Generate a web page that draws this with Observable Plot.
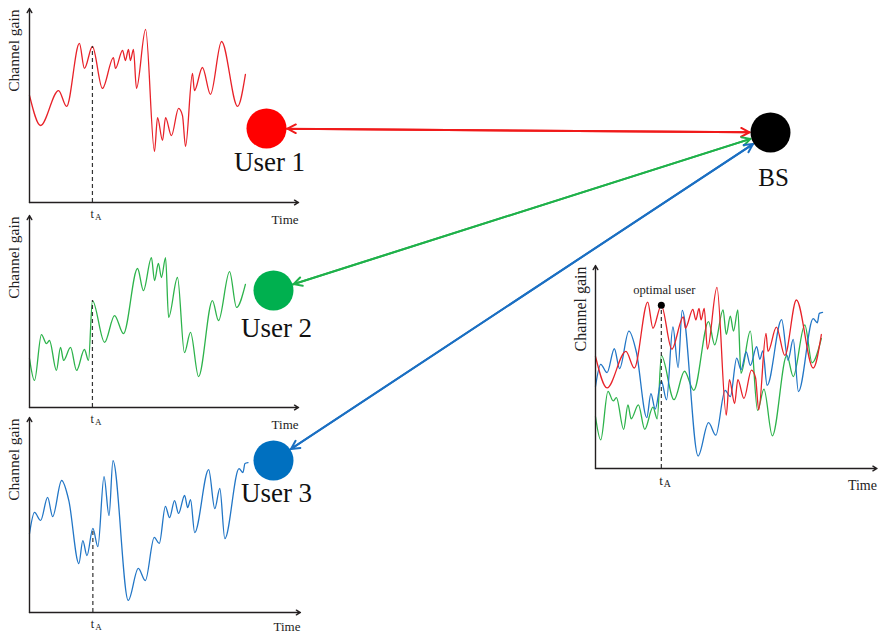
<!DOCTYPE html>
<html>
<head>
<meta charset="utf-8">
<script src="https://cdn.jsdelivr.net/npm/d3@7"></script>
<script src="https://cdn.jsdelivr.net/npm/@observablehq/plot@0.6"></script>
<style>
  html, body { margin: 0; padding: 0; background: #ffffff; }
  #chart { position: relative; width: 878px; height: 634px; overflow: hidden; background: #ffffff; }
  #chart svg { position: absolute; left: 0; top: 0; }
</style>
</head>
<body>
<div id="chart"></div>
<script>
// ---------------- DATA ----------------
const userNames = ["User 1", "User 2", "User 3"];
const stationName = "BS";
const tA = 29;               // marked time instant
const timeAxisEnd = 124;     // length of the time axis (same units as time)
const gainAxisEnd = 100;     // length of the gain axis
const tickMain = "t";
const tickSub = "A";
const xAxisLabel = "Time";
const yAxisLabel = "Channel gain";
const optimalLabel = "optimal user";

// Channel gain curves (time, gain)
const user1Time = [0, 5.1, 13.4, 17.1, 23.0, 25.3, 29.0, 33.6, 38.7, 39.6, 42.9, 44.2, 45.6, 46.5, 47.9, 49.3, 53.5, 57.6, 59.0, 61.3, 62.7, 65.4, 68.7, 70.5, 71.9, 75.1, 76.0, 79.7, 83.4, 88.5, 95.9, 99.5];
const user1Gain = [55.2, 39.7, 57.7, 49.5, 82.0, 69.1, 80.4, 58.8, 74.7, 69.1, 78.4, 73.2, 78.9, 73.2, 78.9, 58.8, 89.2, 26.3, 43.8, 32.0, 43.8, 34.5, 48.5, 44.8, 28.9, 66.5, 57.7, 69.6, 55.7, 83.0, 49.5, 66.0];

const user2Time = [0, 2.3, 5.5, 7.8, 9.2, 12.4, 14.3, 15.7, 18.9, 21.7, 25.3, 27.2, 29.0, 34.6, 39.2, 43.3, 49.8, 52.5, 56.2, 57.6, 59.4, 60.8, 62.7, 64.1, 68.2, 71.4, 74.2, 77.9, 84.3, 87.1, 92.2, 95.4, 99.5];
const user2Gain = [25.5, 14.1, 38.0, 33.3, 34.9, 19.3, 31.3, 24.5, 31.3, 19.3, 30.2, 24.5, 55.7, 33.9, 47.9, 38.5, 72.4, 60.9, 78.1, 66.1, 75.0, 67.7, 78.1, 46.9, 67.7, 28.6, 39.1, 16.1, 55.7, 45.3, 70.8, 52.1, 64.1];

const user3Time = [0, 2.3, 5.1, 8.3, 10.6, 14.7, 18.0, 22.6, 24.4, 26.3, 29.0, 31.3, 34.1, 36.4, 38.2, 45.2, 49.8, 53.0, 57.1, 59.4, 62.2, 64.1, 66.4, 68.2, 71.0, 72.4, 73.7, 75.6, 82.0, 84.8, 87.1, 89.4, 95.9, 97.7, 98.6, 100];
const user3Gain = [40.5, 51.3, 47.2, 59.0, 49.2, 67.7, 57.4, 25.1, 36.9, 29.2, 43.1, 33.8, 69.7, 49.7, 77.9, 6.2, 22.6, 16.4, 38.5, 35.4, 54.4, 48.7, 57.4, 50.8, 60.0, 53.8, 57.9, 41.0, 73.3, 53.3, 63.6, 37.9, 73.8, 71.8, 76.4, 76.9];

// ---------------- STYLE / LAYOUT ----------------
const FONT = "'Liberation Serif', 'Times New Roman', serif";
const lineColor = { "User 1": "#e82229", "User 2": "#2db34b", "User 3": "#2276c6" };
const nodeColor = { "User 1": "#ff0000", "User 2": "#00b04f", "User 3": "#0070c0", "BS": "#000000" };
const linkColor = { "User 1": "#f01a1a", "User 2": "#1fb14a", "User 3": "#1b6fc2" };
const axisColor = "#231f20";

// pixel boxes of each small chart: x range for time 0..100, y range for gain 0..100
const panelLayout = [
  { users: ["User 1"], x: [29, 246], y: [202, 8], yLabelSize: 15.5, tickSize: 12, timeSize: 13, timeDy: 21 },
  { users: ["User 2"], x: [29, 246], y: [407, 215], yLabelSize: 15.5, tickSize: 12, timeSize: 13, timeDy: 21 },
  { users: ["User 3"], x: [29, 247.5], y: [612, 417], yLabelSize: 15.5, tickSize: 12, timeSize: 13, timeDy: 18 },
  { users: ["User 2", "User 3", "User 1"], x: [595, 822], y: [468, 265], yLabelSize: 16, tickSize: 13, timeSize: 14, timeDy: 21, optimal: "User 1" }
];
// node centres and label anchors in page pixels
const nodeLayout = { "User 1": [266, 128], "User 2": [273, 290], "User 3": [273, 460], "BS": [770, 132] };
const labelLayout = { "User 1": [269, 170], "User 2": [276, 336], "User 3": [276, 501], "BS": [773, 185] };
const nodeRadius = 20;

// ---------------- BUILD ----------------
const times = { "User 1": user1Time, "User 2": user2Time, "User 3": user3Time };
const gains = { "User 1": user1Gain, "User 2": user2Gain, "User 3": user3Gain };
const rows = {};
for (const u of userNames) rows[u] = times[u].map((t, i) => ({ user: u, t, g: gains[u][i] }));
const gainAt = (u, t) => {
  const i = times[u].indexOf(t);
  return gains[u][i];
};

function panel(p) {
  const axisRows = [
    { x1: 0, y1: 0, x2: 0, y2: gainAxisEnd },
    { x1: 0, y1: 0, x2: timeAxisEnd, y2: 0 }
  ];
  const marker = p.optimal || p.users[0];
  const markerGain = gainAt(marker, tA);
  const marks = [
    ...p.users.map(u => Plot.line(rows[u], { x: "t", y: "g", stroke: lineColor[u], strokeWidth: 1.3, curve: "monotone-x" })),
    Plot.ruleX([tA], { x: d => d, y1: 0, y2: markerGain, stroke: "#333", strokeWidth: 1.2, strokeDasharray: "4,3" }),
    Plot.arrow(axisRows, { x1: "x1", y1: "y1", x2: "x2", y2: "y2", stroke: axisColor, strokeWidth: 1.4, headLength: 5, headAngle: 60 }),
    Plot.text([tickMain], { x: tA, y: 0, text: d => d, textAnchor: "start", lineAnchor: "bottom", dx: -2, dy: p.tickSize + 3, fontSize: p.tickSize, fontFamily: FONT, fill: "#222" }),
    Plot.text([tickSub], { x: tA, y: 0, text: d => d, textAnchor: "start", lineAnchor: "bottom", dx: 2.5, dy: p.tickSize + 5, fontSize: p.tickSize * 0.75, fontFamily: FONT, fill: "#222" }),
    Plot.text([xAxisLabel], { x: timeAxisEnd, y: 0, text: d => d, textAnchor: "end", lineAnchor: "bottom", dy: p.timeDy, fontSize: p.timeSize, fontFamily: FONT, fill: "#222" }),
    Plot.text([yAxisLabel], { x: 0, y: gainAxisEnd, text: d => d, rotate: -90, textAnchor: "end", lineAnchor: "middle", dx: -15, dy: 1, fontSize: p.yLabelSize, fontFamily: FONT, fill: "#222" })
  ];
  if (p.optimal) {
    marks.push(Plot.dot([markerGain], { x: tA, y: d => d, r: 3.5, fill: "#000" }));
    marks.push(Plot.text([optimalLabel], { x: tA, y: markerGain, text: d => d, textAnchor: "middle", lineAnchor: "bottom", dx: 3, dy: -11, fontSize: 12.5, fontFamily: FONT, fill: "#222" }));
  }
  return Plot.plot({
    width: 878, height: 634, margin: 0,
    x: { axis: null, domain: [0, 100], range: p.x },
    y: { axis: null, domain: [0, 100], range: p.y },
    style: { background: "transparent", fontFamily: FONT, overflow: "visible" },
    marks
  });
}

const nodes = [...userNames, stationName].map(n => ({ name: n, x: nodeLayout[n][0], y: nodeLayout[n][1], lx: labelLayout[n][0], ly: labelLayout[n][1] }));
const links = userNames.map(u => ({ user: u, ux: nodeLayout[u][0], uy: nodeLayout[u][1], bx: nodeLayout[stationName][0], by: nodeLayout[stationName][1] }));

const overlay = Plot.plot({
  width: 878, height: 634, margin: 0,
  x: { axis: null, domain: [0, 878], range: [0, 878] },
  y: { axis: null, domain: [0, 634], range: [0, 634] },
  color: { type: "identity" },
  style: { background: "transparent", fontFamily: FONT, overflow: "visible" },
  marks: [
    Plot.arrow(links, { x1: "ux", y1: "uy", x2: "bx", y2: "by", stroke: d => linkColor[d.user], strokeWidth: 2, headLength: 7, headAngle: 55, insetStart: 20, insetEnd: 21 }),
    Plot.arrow(links, { x1: "bx", y1: "by", x2: "ux", y2: "uy", stroke: d => linkColor[d.user], strokeWidth: 2, headLength: 7, headAngle: 55, insetStart: 21, insetEnd: 21 }),
    Plot.dot(nodes, { x: "x", y: "y", r: nodeRadius, fill: d => nodeColor[d.name] }),
    Plot.text(nodes, { x: "lx", y: "ly", text: "name", textAnchor: "middle", lineAnchor: "bottom", fontSize: d => d.name === stationName ? 25 : 27, fontFamily: FONT, fill: "#111" })
  ]
});

const chart = document.getElementById("chart");
for (const p of panelLayout) chart.append(panel(p));
chart.append(overlay);
</script>
</body>
</html>
